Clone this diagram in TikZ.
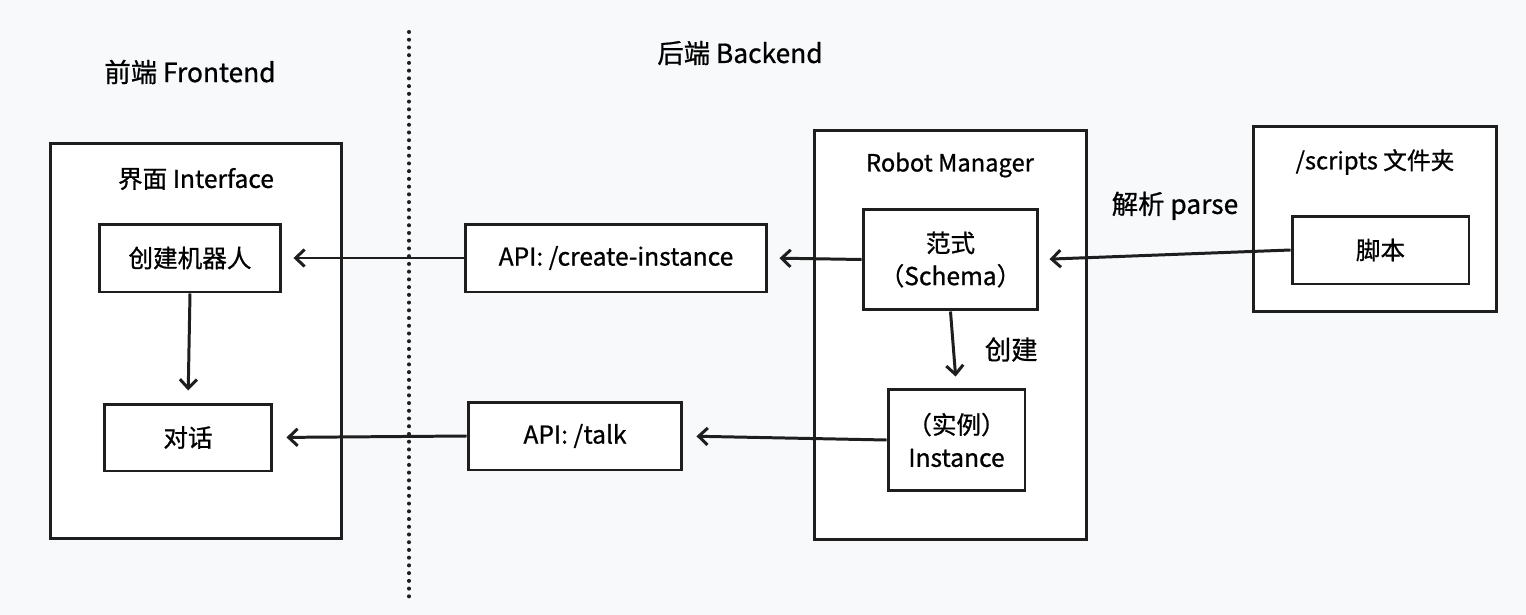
\documentclass[tikz,border=0pt]{standalone}
\usepackage{fontspec}
\setmainfont{Noto Sans CJK SC}[FakeBold=0.8]
\usetikzlibrary{positioning,arrows.meta}
\definecolor{bg}{HTML}{F8F9FB}
\definecolor{ink}{HTML}{1E1E1E}

\begin{document}
\begin{tikzpicture}[x=0.02cm,y=-0.02cm,
    frame/.style={draw=ink,fill=white,line width=1.7pt,inner sep=0pt},
    box/.style={draw=ink,fill=white,line width=1.7pt,inner sep=0pt,align=center,font=\fontsize{14}{18.7}\selectfont},
    small/.style={font=\fontsize{13.5}{16}\selectfont,align=center},
    head/.style={font=\fontsize{15}{18}\selectfont},
    flow/.style={draw=ink,line width=1.7pt,-{Straight Barb[length=1.8mm,width=3.4mm]}}]
\fill[bg] (0,0) rectangle (1526,615);
\useasboundingbox (0,0) rectangle (1526,615);
\draw[ink,line width=2.3pt,line cap=round,dash pattern=on 0pt off 4.4pt] (409,32)--(409,600);
\node[head] (fe) at (190,72) {前端 Frontend};
\node[head] (be) at (740,53) {后端 Backend};
\node[frame,minimum width=5.84cm,minimum height=7.92cm] (iface) at (196,341) {};
\node[frame,minimum width=5.46cm,minimum height=8.2cm] (rm) at (950.5,335) {};
\node[frame,minimum width=4.88cm,minimum height=3.72cm] (dir) at (1375,219) {};
\node[font=\fontsize{14}{16}\selectfont] (ifacet) at (196,179) {界面 Interface};
\node[small] (rmt) at (950,165) {Robot Manager};
\node[small] (dirt) at (1375,162) {/scripts 文件夹};
\node[box,minimum width=3.64cm,minimum height=1.36cm] (mk) at (190,258) {创建机器人};
\node[box,minimum width=3.36cm,minimum height=1.34cm] (chat) at (188,437.5) {对话};
\node[box,minimum width=6.04cm,minimum height=1.36cm] (api1) at (616,258) {API: /create-instance};
\node[box,minimum width=4.28cm,minimum height=1.36cm] (api2) at (575,436) {API: /talk};
\node[box,minimum width=3.5cm,minimum height=2.02cm] (sch) at (950.5,259.5) {范式\\（Schema）};
\node[box,minimum width=2.74cm,minimum height=2.04cm] (inst) at (956.5,440) {（实例）\\Instance};
\node[box,minimum width=3.54cm,minimum height=1.36cm] (scr) at (1380.5,250) {脚本};
\draw[flow,shorten >=0.24cm] (mk.south)--(chat.north);
\draw[flow,shorten >=0.22cm] (api1.west)--(mk.east);
\draw[flow,shorten >=0.26cm] (api2.west)--(chat.east);
\draw[flow,shorten >=0.22cm] (sch.west)--(api1.east);
\draw[flow,shorten >=0.26cm] (inst.west)--(api2.east);
\draw[flow,shorten >=0.22cm] (sch.south)--node[font=\fontsize{15}{18}\selectfont,right=0.48cm] {创建} (inst.north);
\draw[flow,shorten >=0.2cm] (scr.west)--node[font=\fontsize{15}{18}\selectfont,above=0.55cm,xshift=0.2cm] {解析 parse} (sch.east);
\end{tikzpicture}
\end{document}
